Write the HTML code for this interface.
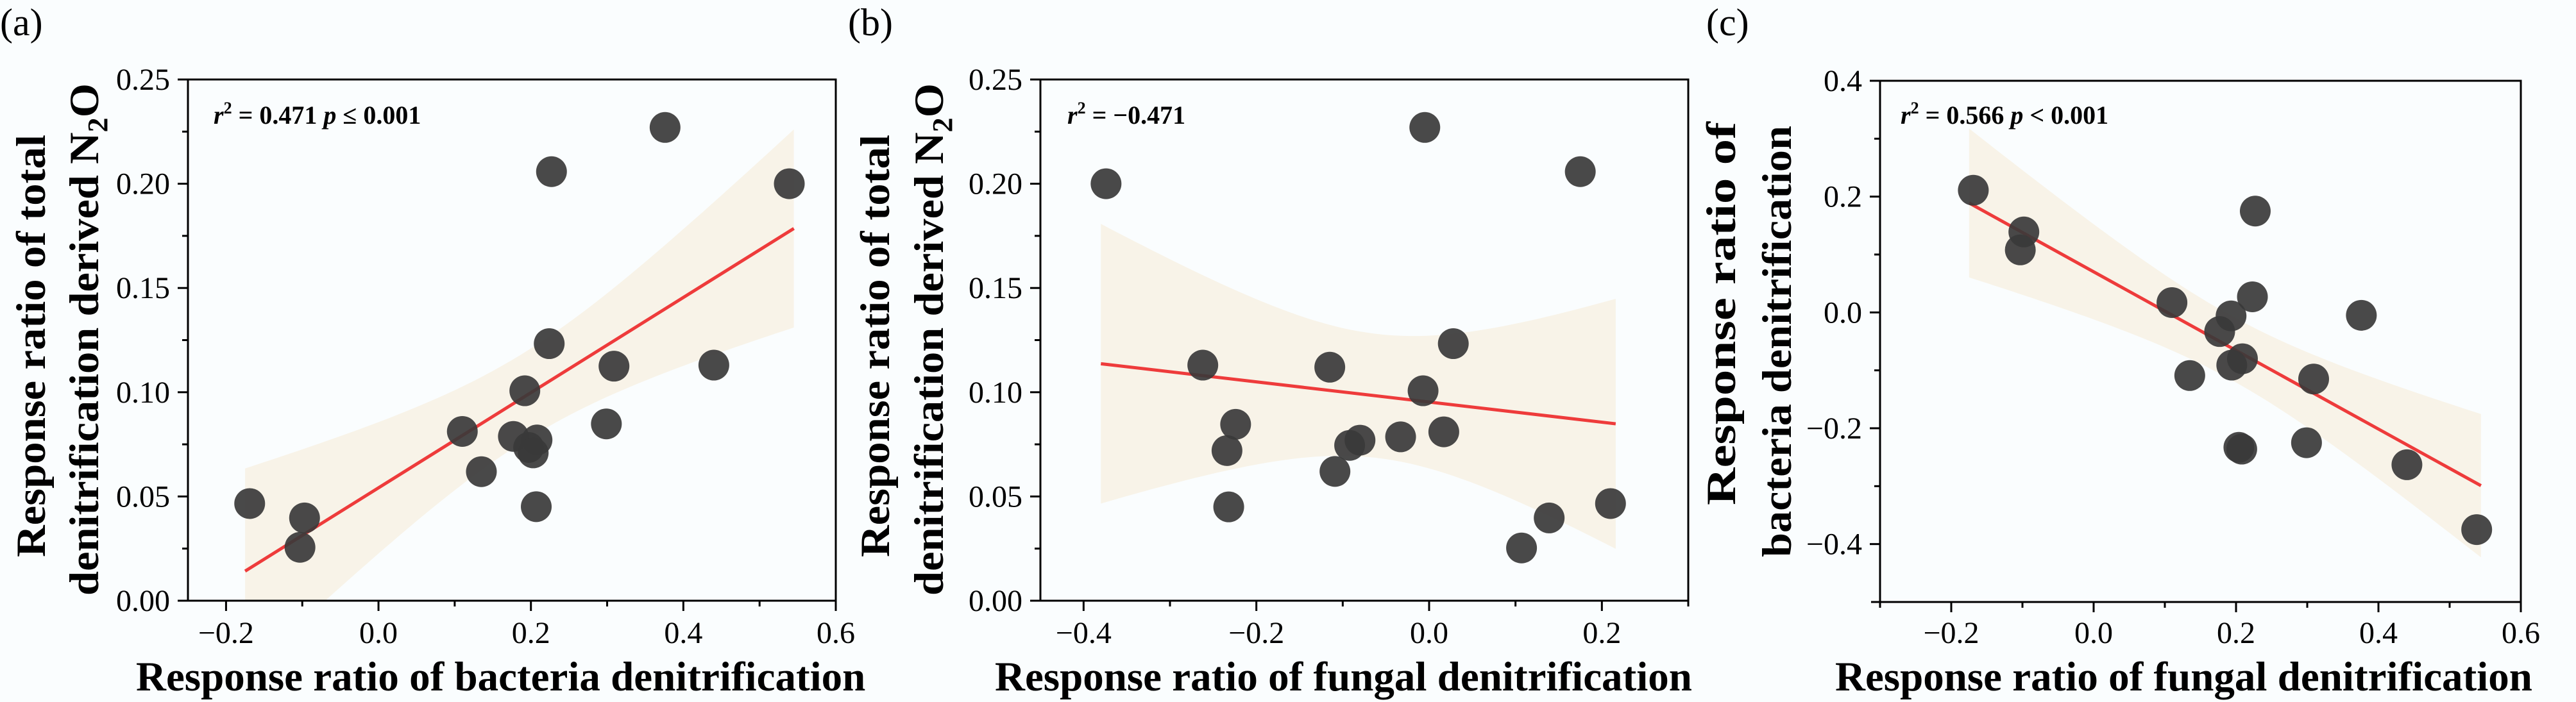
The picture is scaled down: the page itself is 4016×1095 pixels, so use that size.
<!DOCTYPE html>
<html><head><meta charset="utf-8"><style>
html,body{margin:0;padding:0;background:#fafdfe;}
svg{display:block;}
svg text{font-family:"Liberation Serif",serif;}
</style></head><body>
<svg id="fig" width="4016" height="1095" viewBox="0 0 4016 1095" xmlns="http://www.w3.org/2000/svg" font-family="'Liberation Serif', serif">
<rect x="0" y="0" width="4016" height="1095" fill="#fafdfe"/>
</svg>
<script>
// Panel (a): bacteria denitrification vs total N2O
const aX = [-0.169,-0.097,-0.103,0.110,0.135,0.177,0.192,0.197,0.208,0.203,0.207,0.224,0.227,0.299,0.309,0.376,0.440,0.539];
const aY = [0.0466,0.0397,0.0256,0.0812,0.0619,0.0788,0.1007,0.0735,0.0771,0.0709,0.0451,0.1233,0.2058,0.0848,0.1125,0.2270,0.1130,0.2000];
// Panel (b): fungal denitrification vs total N2O
const bX = [-0.374,-0.262,-0.224,-0.234,-0.232,-0.115,-0.109,-0.092,-0.080,-0.033,-0.007,-0.005,0.017,0.028,0.107,0.139,0.175,0.210];
const bY = [0.200,0.113,0.0846,0.072,0.045,0.112,0.062,0.0745,0.077,0.0786,0.1007,0.227,0.081,0.1233,0.0253,0.0397,0.2058,0.0466];
// Panel (c): fungal vs bacteria denitrification
const cX = [-0.169,-0.098,-0.103,0.110,0.135,0.177,0.193,0.194,0.209,0.204,0.208,0.223,0.227,0.299,0.309,0.376,0.440,0.538];
const cY = [0.211,0.139,0.108,0.017,-0.109,-0.033,-0.006,-0.091,-0.080,-0.233,-0.236,0.027,0.175,-0.225,-0.115,-0.005,-0.263,-0.375];
// Tick labels
const aXTicks = [-0.2,0.0,0.2,0.4,0.6];
const aXLabels = ["\u22120.2","0.0","0.2","0.4","0.6"];
const abYTicks = [0,0.05,0.10,0.15,0.20,0.25];
const abYLabels = ["0.00","0.05","0.10","0.15","0.20","0.25"];
const bXTicks = [-0.4,-0.2,0.0,0.2];
const bXLabels = ["\u22120.4","\u22120.2","0.0","0.2"];
const cXTicks = [-0.2,0.0,0.2,0.4,0.6];
const cXLabels = ["\u22120.2","0.0","0.2","0.4","0.6"];
const cYTicks = [-0.4,-0.2,0.0,0.2,0.4];
const cYLabels = ["\u22120.4","\u22120.2","0.0","0.2","0.4"];

const NS="http://www.w3.org/2000/svg";
const FONT="'Liberation Serif', serif";
const svg=document.getElementById('fig');
function mk(tag,attrs,parent){const e=document.createElementNS(NS,tag);for(const k in attrs)e.setAttribute(k,attrs[k]);if(tag==='text')e.setAttribute('font-family',FONT);(parent||svg).appendChild(e);return e;}

const panels=[
 {id:'a',X:aX,Y:aY,L:293,R:1303,T:124,B:937,xd:[-0.25,0.6],yd:[0,0.25],xt:aXTicks,xl:aXLabels,xminor:0.1,yt:abYTicks,yl:abYLabels,yminor:0.025,
  letter:'(a)',lx:0,ann:[['r','i'],['2','sup'],[' = 0.471 ',''],['p','i'],[' \u2264 0.001','']],ax:333,
  xlab:'Response ratio of bacteria denitrification',xlx:212,
  ylab:[['Response ratio of total',70,869,210],['denitrification derived N',153,929,130]],sub:true},
 {id:'b',X:bX,Y:bY,L:1622,R:2632,T:124,B:937,xd:[-0.45,0.3],yd:[0,0.25],xt:bXTicks,xl:bXLabels,xminor:0.1,yt:abYTicks,yl:abYLabels,yminor:0.025,
  letter:'(b)',lx:1322,ann:[['r','i'],['2','sup'],[' = \u22120.471','']],ax:1664,
  xlab:'Response ratio of fungal denitrification',xlx:1551,
  ylab:[['Response ratio of total',1386,869,210],['denitrification derived N',1470,929,130]],sub:true},
 {id:'c',X:cX,Y:cY,L:2931,R:3930,T:126,B:939,xd:[-0.3,0.6],yd:[-0.5,0.4],xt:cXTicks,xl:cXLabels,xminor:0.1,yt:cYTicks,yl:cYLabels,yminor:0.1,
  letter:'(c)',lx:2660,ann:[['r','i'],['2','sup'],[' = 0.566 ',''],['p','i'],[' < 0.001','']],ax:2963,
  xlab:'Response ratio of fungal denitrification',xlx:2861,
  ylab:[['Response ratio of',2705,788,190],['bacteria denitrification',2792,869,196]],sub:false}
];

panels.forEach(p=>{
 const g=mk('g',{});
 
 
 const sx=v=>p.L+(v-p.xd[0])/(p.xd[1]-p.xd[0])*(p.R-p.L);
 const sy=v=>p.B-(v-p.yd[0])/(p.yd[1]-p.yd[0])*(p.B-p.T);
 const cp=mk('clipPath',{id:'clip'+p.id},g);
 mk('rect',{x:p.L,y:p.T,width:p.R-p.L,height:p.B-p.T},cp);
 const n=p.X.length;let mx=0,my=0;for(let i=0;i<n;i++){mx+=p.X[i];my+=p.Y[i];}mx/=n;my/=n;
 let sxx=0,sxy=0;for(let i=0;i<n;i++){sxx+=(p.X[i]-mx)**2;sxy+=(p.X[i]-mx)*(p.Y[i]-my);}
 const b1=sxy/sxx,b0=my-b1*mx;let sse=0;for(let i=0;i<n;i++)sse+=(p.Y[i]-b0-b1*p.X[i])**2;
 const s=Math.sqrt(sse/(n-2)),t=2.12;
 const x0=Math.min(...p.X)-0.006,x1=Math.max(...p.X)+0.006;
 let up=[],lo=[];
 for(let k=0;k<=60;k++){const x=x0+(x1-x0)*k/60;const yh=b0+b1*x;const se=s*Math.sqrt(1/n+(x-mx)**2/sxx);
  up.push(sx(x).toFixed(1)+','+sy(yh+t*se).toFixed(1));lo.unshift(sx(x).toFixed(1)+','+sy(yh-t*se).toFixed(1));}
 const band=mk('polygon',{points:up.concat(lo).join(' '),fill:'#f8f3e8','clip-path':'url(#clip'+p.id+')'},g);
 
 
 const fit=mk('line',{x1:sx(x0),y1:sy(b0+b1*x0),x2:sx(x1),y2:sy(b0+b1*x1),stroke:'#ee3b3b','stroke-width':5},g);
 
 
 for(let i=0;i<n;i++){
  const c=mk('circle',{cx:sx(p.X[i]),cy:sy(p.Y[i]),r:24,fill:'#3a3a3a','fill-opacity':0.92},g);
  
  
 }
 const fr=mk('rect',{x:p.L,y:p.T,width:p.R-p.L,height:p.B-p.T,fill:'none',stroke:'#000','stroke-width':3},g);
 
 
 const ext=mk('line',{x1:p.L-14,x2:p.L,y1:p.B,y2:p.B,stroke:'#000','stroke-width':3},g);
 
 
 const xs=Math.ceil((p.xd[0]-1e-9)/p.xminor),xe=Math.floor((p.xd[1]+1e-9)/p.xminor);
 for(let k=xs;k<=xe;k++){const v=k*p.xminor;const major=p.xt.some(m=>Math.abs(m-v)<1e-9);
  const tk=mk('line',{x1:sx(v),x2:sx(v),y1:p.B,y2:p.B+(major?16:9),stroke:'#000','stroke-width':3},g);
  
  }
 p.xt.forEach((v,i)=>{const tx=mk('text',{x:sx(v),y:1003,'font-size':48,'text-anchor':'middle',fill:'#000'},g);tx.textContent=p.xl[i];
  
  });
 const ys=Math.ceil((p.yd[0]-1e-9)/p.yminor),ye=Math.floor((p.yd[1]+1e-9)/p.yminor);
 for(let k=ys;k<=ye;k++){const v=k*p.yminor;const major=p.yt.some(m=>Math.abs(m-v)<1e-9);
  const tk=mk('line',{x1:p.L,x2:p.L-(major?16:9),y1:sy(v),y2:sy(v),stroke:'#000','stroke-width':3},g);
  
  }
 p.yt.forEach((v,i)=>{const tx=mk('text',{x:p.L-28,y:sy(v)+16,'font-size':48,'text-anchor':'end',fill:'#000'},g);tx.textContent=p.yl[i];
  
  });
 const lt=mk('text',{x:p.lx,y:55,'font-size':60,fill:'#000'},g);lt.textContent=p.letter;
 
 
 const an=mk('text',{x:p.ax,y:193,'font-size':40,'font-weight':'bold',fill:'#000'},g);
 
 
 let prevSup=false;
 p.ann.forEach(([s,st])=>{const ts=mk('tspan',{},an);ts.textContent=s;
  if(st==='i')ts.setAttribute('font-style','italic');
  if(st==='sup'){ts.setAttribute('font-size',26);ts.setAttribute('dy',-16);prevSup=true;}
  else if(prevSup){ts.setAttribute('dy',16);prevSup=false;}
 });
 const xlab=mk('text',{x:p.xlx,y:1077,'font-size':65,'font-weight':'bold',fill:'#000'},g);xlab.textContent=p.xlab;
 
 
 p.ylab.forEach((yl,i)=>{const [txt,bx,ys0,ye0]=yl;
  const tt=mk('text',{x:0,y:0,'font-size':65,'font-weight':'bold',fill:'#000',transform:'translate('+bx+','+ys0+') rotate(-90)'},g);
  
  
  const t1=mk('tspan',{},tt);t1.textContent=txt;
  if(p.sub&&i===1){const t2=mk('tspan',{'font-size':44,dy:14},tt);t2.textContent='2';const t3=mk('tspan',{dy:-14},tt);t3.textContent='O';}
  tt.setAttribute('textLength',ys0-ye0);tt.setAttribute('lengthAdjust','spacingAndGlyphs');
 });
});
</script>
</body></html>
